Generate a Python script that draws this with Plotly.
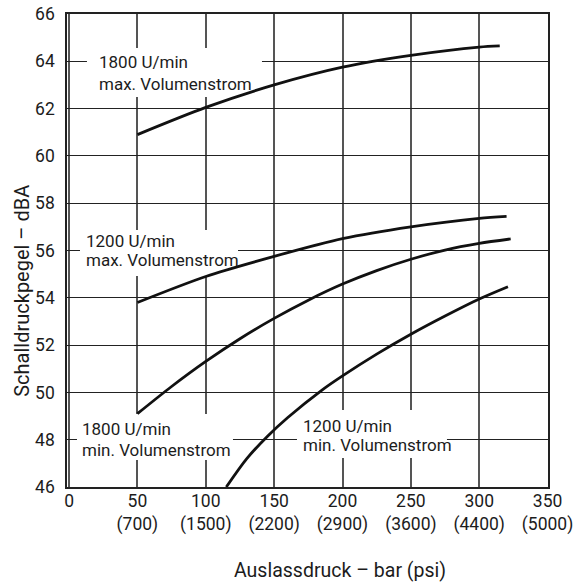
import plotly.graph_objects as go

# ---- data ----
x_1800_max = [50, 100, 150, 200, 250, 300, 315]
y_1800_max = [60.9, 62.05, 63.0, 63.75, 64.25, 64.6, 64.65]

x_1200_max = [50, 100, 150, 200, 250, 300, 320]
y_1200_max = [53.8, 54.9, 55.75, 56.5, 57.0, 57.36, 57.44]

x_1800_min = [50, 75, 100, 125, 150, 175, 200, 225, 250, 275, 300, 323]
y_1800_min = [49.1, 50.25, 51.31, 52.27, 53.13, 53.9, 54.58, 55.15, 55.63, 56.02, 56.3, 56.49]

x_1200_min = [115, 130, 145, 160, 185, 200, 225, 250, 275, 300, 321]
y_1200_min = [46.0, 47.2, 48.14, 48.94, 50.1, 50.7, 51.62, 52.46, 53.23, 53.95, 54.47]

x_tickvals = [0, 50, 100, 150, 200, 250, 300, 350]
x_ticktext = ["0", "50<br>(700)", "100<br>(1500)", "150<br>(2200)", "200<br>(2900)",
              "250<br>(3600)", "300<br>(4400)", "350<br>(5000)"]
y_tickvals = [46, 48, 50, 52, 54, 56, 58, 60, 62, 64, 66]

curve_labels = [
    ("1800 U/min", "max. Volumenstrom"),
    ("1200 U/min", "max. Volumenstrom"),
    ("1800 U/min", "min. Volumenstrom"),
    ("1200 U/min", "min. Volumenstrom"),
]
x_title = "Auslassdruck – bar (psi)"
y_title = "Schalldruckpegel – dBA"

FONT = "Roboto, sans-serif"
INK = "#1c1c1c"

fig = go.Figure()
for xs, ys in [(x_1800_max, y_1800_max), (x_1200_max, y_1200_max),
               (x_1800_min, y_1800_min), (x_1200_min, y_1200_min)]:
    fig.add_trace(go.Scatter(x=xs, y=ys, mode="lines",
                             line=dict(color="#111", width=2.8, shape="spline", smoothing=0.8),
                             showlegend=False, hoverinfo="skip"))

# white label backgrounds (between gridlines and curves): x0, x1, y0, y1
label_boxes = [
    (13.1, 141.1, 62.49, 64.56),
    (8.0, 123.6, 54.92, 56.87),
    (5.8, 119.9, 47.14, 49.09),
    (166.7, 276.4, 47.23, 49.26),
]
shapes = [dict(type="rect", xref="x", yref="y", x0=a, x1=b, y0=c, y1=d,
               fillcolor="white", line=dict(width=0), layer="between")
          for a, b, c, d in label_boxes]

# label text placement: x of text left, y of line 1, y of line 2
label_pos = [
    (21.2, 63.97, 63.02),
    (11.7, 56.41, 55.60),
    (8.5, 48.45, 47.58),
    (170.2, 48.56, 47.78),
]
annotations = []
for (l1, l2), (lx, y1, y2) in zip(curve_labels, label_pos):
    for txt, yy in [(l1, y1), (l2, y2)]:
        annotations.append(dict(x=lx, y=yy, xref="x", yref="y", text=txt, showarrow=False,
                                xanchor="left", yanchor="middle", align="left", borderpad=0,
                                font=dict(family=FONT, size=17, color=INK)))

annotations.append(dict(x=0.5686, y=-0.1755, xref="paper", yref="paper", text=x_title,
                        showarrow=False, xanchor="center", yanchor="middle",
                        font=dict(family=FONT, size=19.5, color=INK)))
annotations.append(dict(x=-0.094, y=0.4144, xref="paper", yref="paper", text=y_title,
                        showarrow=False, xanchor="center", yanchor="middle", textangle=-90,
                        font=dict(family=FONT, size=20, color=INK)))

fig.update_layout(
    width=574, height=583,
    margin=dict(l=67, r=26, t=14, b=96, autoexpand=False),
    paper_bgcolor="white", plot_bgcolor="white",
    font=dict(family=FONT, size=17.5, color=INK),
    annotations=annotations, shapes=shapes,
)
fig.update_xaxes(range=[-1.5, 350.3], tickvals=x_tickvals, ticktext=x_ticktext,
                 showgrid=True, gridcolor="#555", gridwidth=1.5,
                 showline=True, linecolor="#222", linewidth=1.5, mirror=True,
                 ticks="", zeroline=False, ticklabelstandoff=-3,
                 ticklabeloverflow="allow", automargin=False,
                 tickfont=dict(family=FONT, size=17.5, color=INK))
fig.update_yaxes(range=[46, 66], tickvals=y_tickvals,
                 showgrid=True, gridcolor="#222", gridwidth=1.3,
                 showline=True, linecolor="#222", linewidth=1.5, mirror=True,
                 ticks="", zeroline=False, ticklabelstandoff=7,
                 ticklabeloverflow="allow", automargin=False,
                 tickfont=dict(family=FONT, size=17.5, color=INK))

fig.write_html("out.html")
